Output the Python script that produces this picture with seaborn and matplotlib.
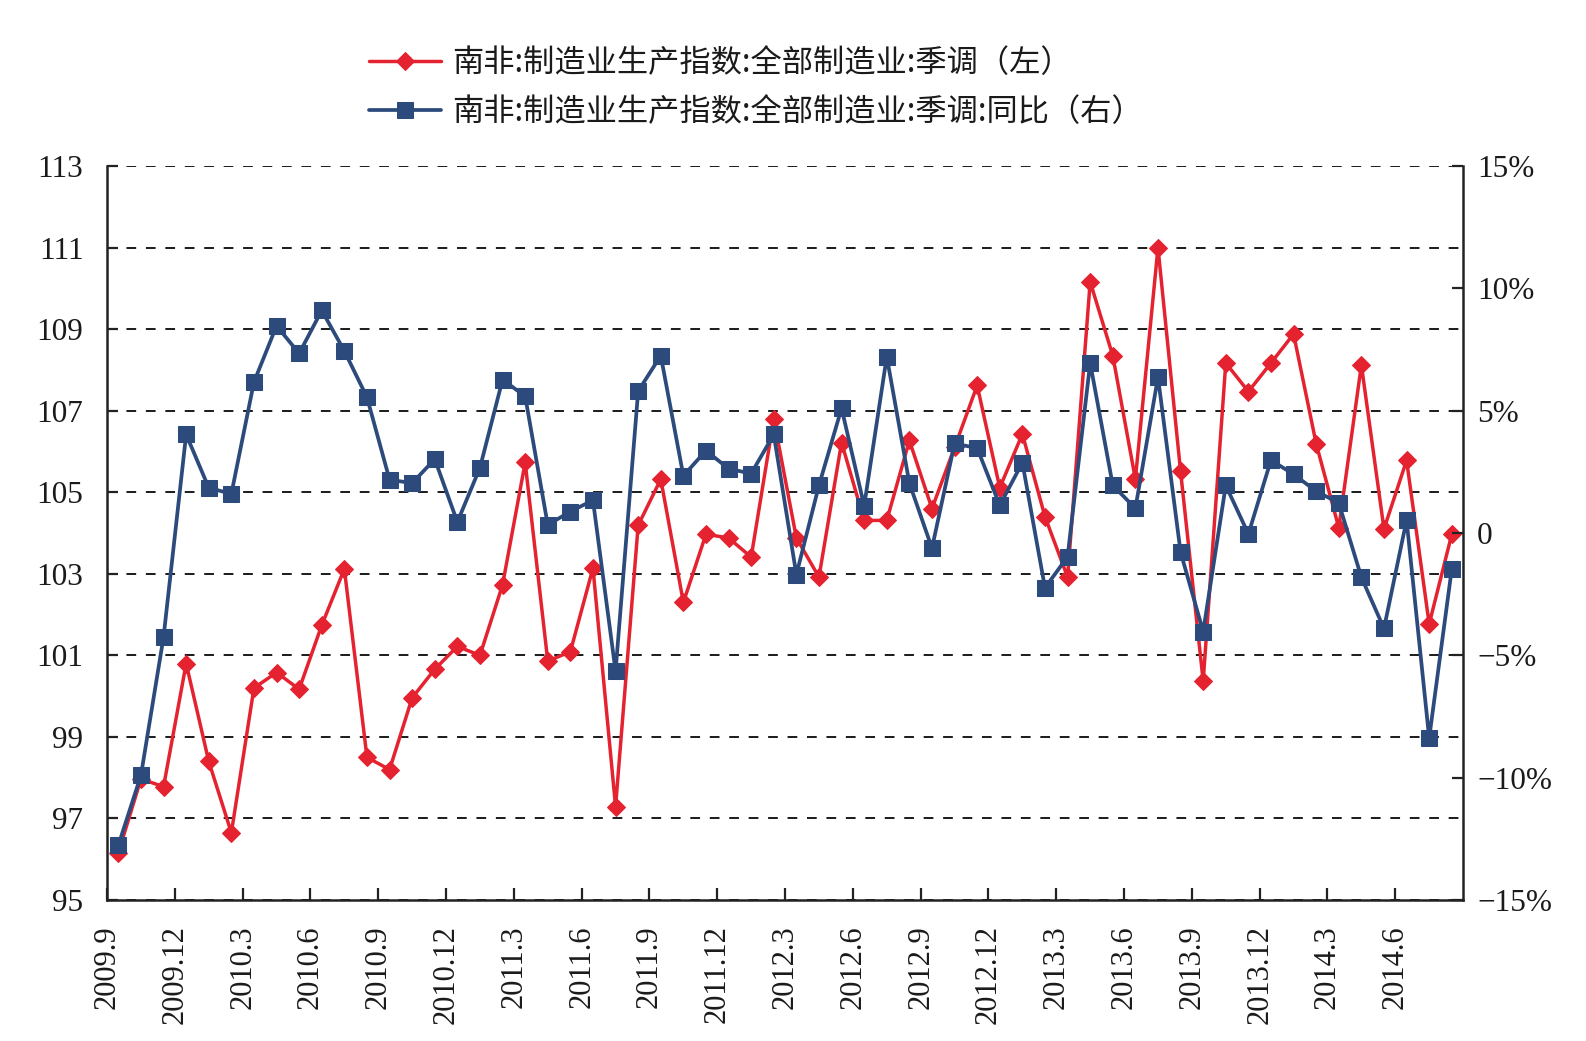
import numpy as np
import pandas as pd
import matplotlib
matplotlib.use("Agg")
import matplotlib.pyplot as plt
from matplotlib.font_manager import FontProperties
import seaborn as sns

# ---------------- data ----------------
months = [p.strftime("%Y.") + str(p.month) for p in pd.period_range("2009-09", "2014-08", freq="M")]

index_sa = [96.16, 97.97, 97.78, 100.8, 98.4, 96.65, 100.2, 100.58, 100.17, 101.74,
            103.12, 98.5, 98.2, 99.96, 100.66, 101.22, 101.0, 102.73, 105.73, 100.86,
            101.09, 103.14, 97.29, 104.19, 105.32, 102.3, 103.97, 103.88, 103.41, 106.8,
            103.88, 102.92, 106.22, 104.31, 104.31, 106.27, 104.6, 106.1, 107.62, 105.11,
            106.43, 104.4, 102.92, 110.16, 108.35, 105.32, 111.0, 105.51, 100.37, 108.17,
            107.47, 108.17, 108.88, 106.19, 104.13, 108.12, 104.1, 105.78, 101.77, 103.97]

yoy_pct = [-12.76, -9.9, -4.25, 4.03, 1.85, 1.6, 6.17, 8.47, 7.34, 9.1,
           7.44, 5.55, 2.18, 2.04, 3.02, 0.45, 2.67, 6.27, 5.59, 0.33,
           0.88, 1.34, -5.65, 5.8, 7.25, 2.34, 3.37, 2.63, 2.43, 4.03,
           -1.7, 1.95, 5.1, 1.11, 7.21, 2.04, -0.62, 3.66, 3.47, 1.13,
           2.88, -2.24, -0.97, 6.95, 1.95, 1.01, 6.37, -0.78, -4.03, 1.95,
           -0.04, 2.98, 2.4, 1.71, 1.23, -1.81, -3.9, 0.53, -8.38, -1.46]

x_tick_labels = ["2009.9", "2009.12", "2010.3", "2010.6", "2010.9", "2010.12",
                 "2011.3", "2011.6", "2011.9", "2011.12", "2012.3", "2012.6",
                 "2012.9", "2012.12", "2013.3", "2013.6", "2013.9", "2013.12",
                 "2014.3", "2014.6"]
left_ticks = [95, 97, 99, 101, 103, 105, 107, 109, 111, 113]
right_ticks = [-15, -10, -5, 0, 5, 10, 15]
right_tick_labels = ["\u221215%", "\u221210%", "\u22125%", "0", "5%", "10%", "15%"]

label_left = "南非:制造业生产指数:全部制造业:季调（左）"
label_right = "南非:制造业生产指数:全部制造业:季调:同比（右）"

# ---------------- style ----------------
sns.set_theme(style="white")
plt.rcParams["font.family"] = ["Liberation Serif", "Noto Sans CJK SC", "DejaVu Sans"]
plt.rcParams["axes.unicode_minus"] = True

RED = "#E52330"
BLUE = "#2C4B7C"
AXC = "#222222"

df = pd.DataFrame({"month": months, "index_sa": index_sa, "yoy": yoy_pct})
df["pos"] = np.arange(len(df)) + 0.5   # categories centred between tick marks

fig = plt.figure(figsize=(15.86, 10.41), dpi=100)
ax = fig.add_axes([0.0675, 0.1354, 0.855, 0.7051])

sns.lineplot(data=df, x="pos", y="index_sa", ax=ax, color=RED, linewidth=2.5,
             marker="D", markersize=9.5, markeredgecolor=RED, markerfacecolor=RED,
             legend=False)
ax.set_ylim(95, 113)
ax.set_xlim(0, len(df))
ax.set_yticks(left_ticks)
ax.set_yticklabels([str(v) for v in left_ticks])
ax.set_xticks(np.arange(0, len(df), 3))
ax.set_xticklabels(x_tick_labels, rotation=90, va="top", ha="center")
ax.set_xlabel("")
ax.set_ylabel("")
ax.set_axisbelow(True)
ax.yaxis.grid(True, color="#1a1a1a", linestyle=(0, (5, 5)), linewidth=1.4)
ax.xaxis.grid(False)

ax2 = ax.twinx()
sns.lineplot(data=df, x="pos", y="yoy", ax=ax2, color=BLUE, linewidth=2.7,
             marker="s", markersize=11.5, markeredgecolor=BLUE, markerfacecolor=BLUE,
             legend=False)
ax2.set_ylim(-15, 15)
ax2.set_yticks(right_ticks)
ax2.set_yticklabels(right_tick_labels)
ax2.set_ylabel("")
ax2.grid(False)

for a in (ax, ax2):
    a.spines["top"].set_visible(False)
    for s in ("left", "bottom", "right"):
        a.spines[s].set_color(AXC)
        a.spines[s].set_linewidth(1.8)
ax.spines["right"].set_visible(False)
ax2.spines["left"].set_visible(False)
ax2.spines["bottom"].set_visible(False)

ax.tick_params(axis="x", direction="in", length=9, width=1.6, color=AXC,
               labelsize=22, pad=18, bottom=True, labelcolor="#1a1a1a")
ax.tick_params(axis="y", direction="in", length=8, width=1.6, color=AXC,
               labelsize=22.5, pad=17, left=True, labelcolor="#1a1a1a")
ax2.tick_params(axis="y", direction="in", length=8, width=1.6, color=AXC,
                labelsize=22.5, pad=10, right=True, labelcolor="#1a1a1a")

handles = [ax.get_lines()[0], ax2.get_lines()[0]]
leg_font = FontProperties(family=["Noto Sans CJK SC", "DejaVu Sans"], size=22.5)
fig.legend(handles, [label_left, label_right], loc="center left",
           bbox_to_anchor=(0.2327, 0.916), frameon=False, prop=leg_font,
           handlelength=2.3, handletextpad=0.35, labelspacing=0.52,
           borderpad=0, borderaxespad=0, numpoints=1, labelcolor="#1a1a1a")

fig.savefig("out.png", dpi=100)
